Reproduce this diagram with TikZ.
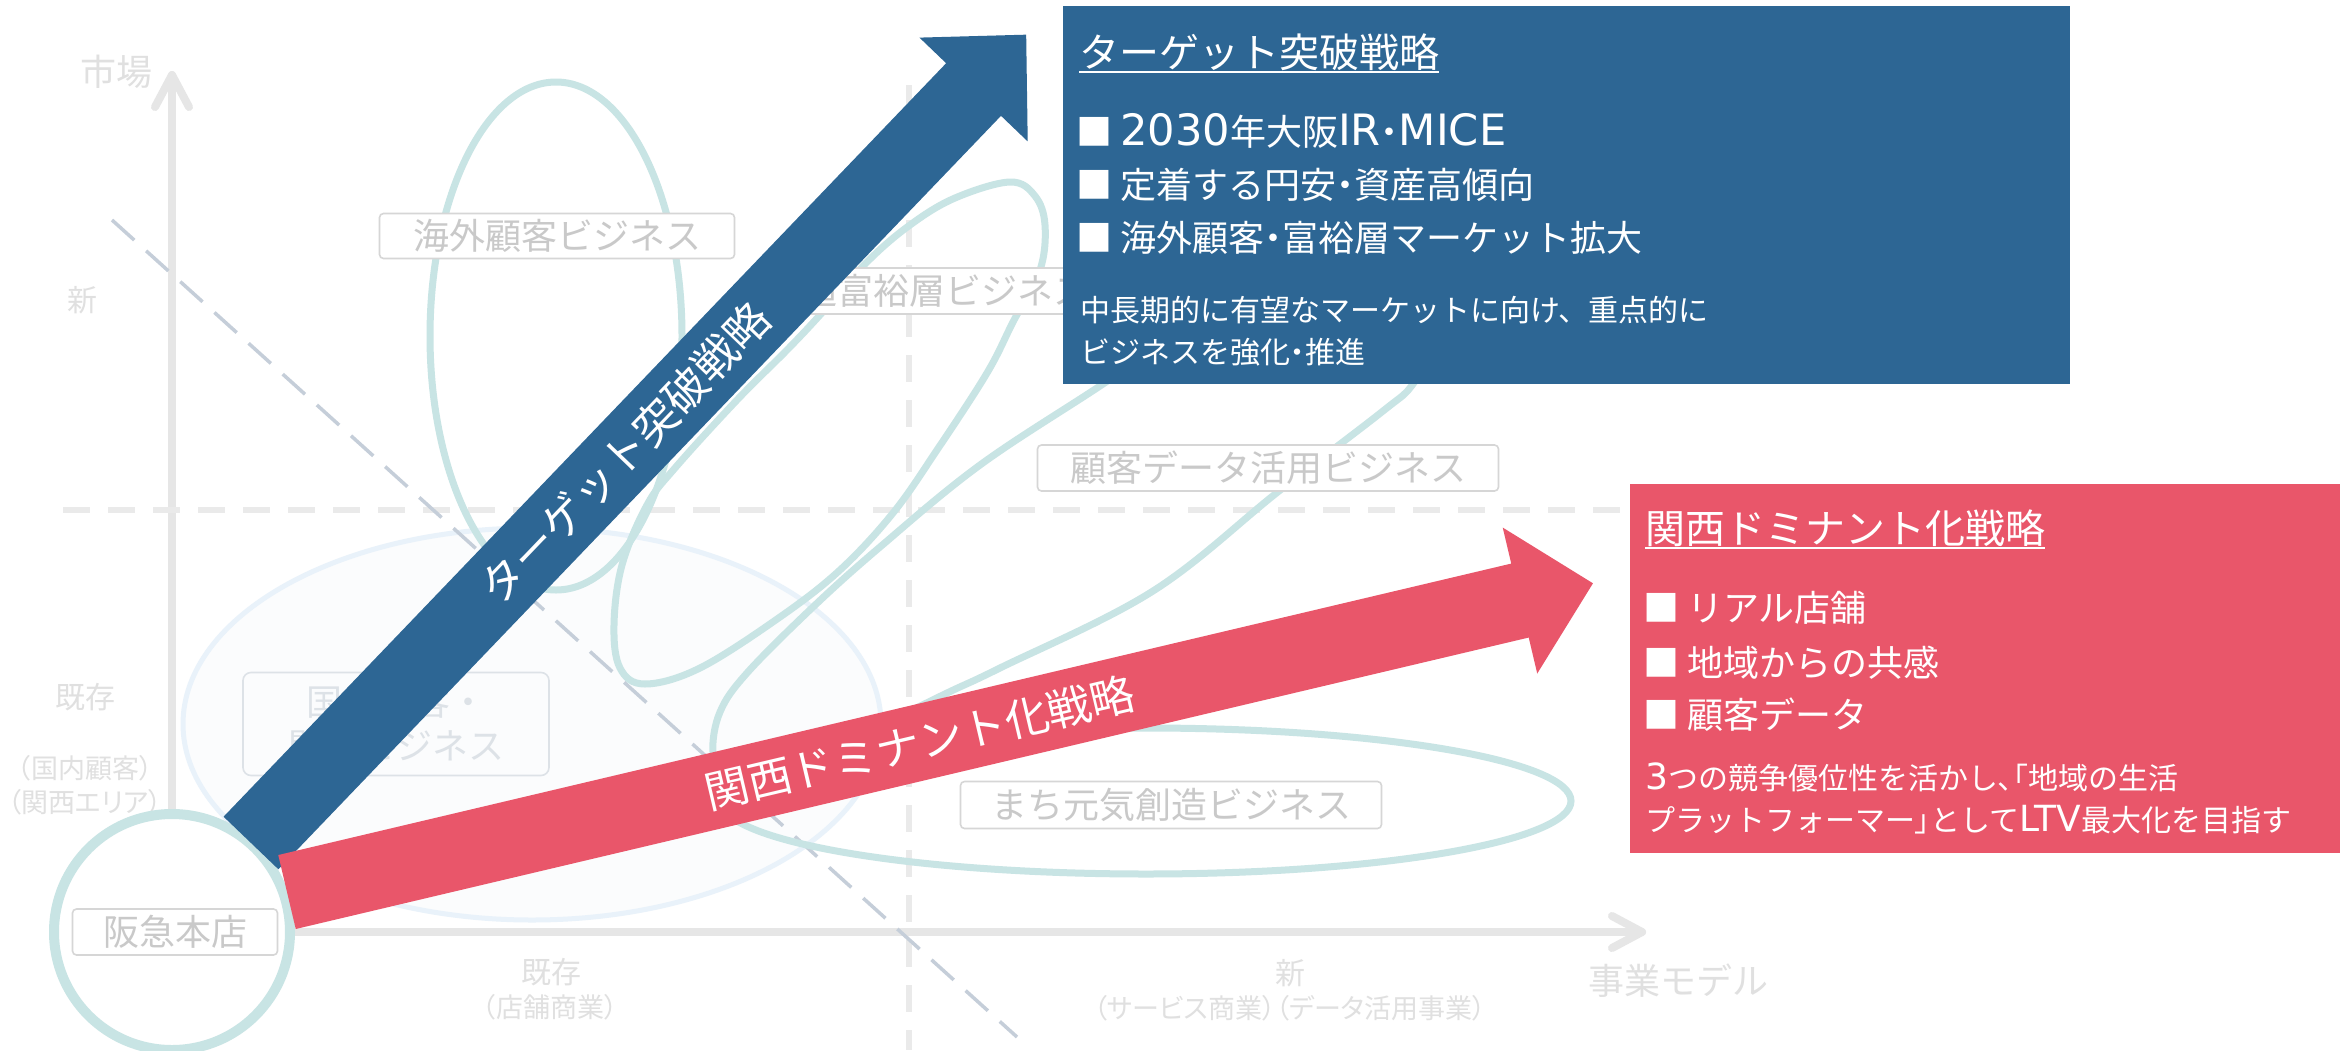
\documentclass[tikz,border=0pt]{standalone}
\usepackage{fontspec}
\setmainfont{Noto Sans CJK JP}
\newfontfamily\jpprop[RawFeature=+palt]{Noto Sans CJK JP}
\newfontfamily\latinwide[Scale=1.2]{DejaVu Sans}
\newcommand{\lw}[1]{{\latinwide #1}}
\newcommand{\pp}[1]{{\jpprop #1}}
\usetikzlibrary{calc}
\definecolor{axisgray}{HTML}{E6E6E6}
\definecolor{dashgray}{HTML}{EAEAEA}
\definecolor{diagblue}{HTML}{C5CED9}
\definecolor{tealline}{HTML}{C8E4E4}
\definecolor{ellline}{HTML}{E9F2FA}
\definecolor{ellfill}{HTML}{FBFCFD}
\definecolor{lbltext}{HTML}{C9C9C9}
\definecolor{lblborder}{HTML}{D6D6D6}
\definecolor{axtext}{HTML}{E0E0E0}
\definecolor{faint}{HTML}{DDE2E7}
\definecolor{stratblue}{HTML}{2D6694}
\definecolor{stratred}{HTML}{E9566A}
\begin{document}
\begin{tikzpicture}[x=1pt,y=-1pt,
  tealloop/.style={draw=tealline, line width=7pt},
  bizbox/.style={draw=lblborder, line width=1.6pt, fill=white, rounded corners=4pt, text=lbltext, font=\fontsize{36}{40}\selectfont, inner sep=0pt},
  axlabel/.style={text=axtext, inner sep=0pt},
  infotext/.style={text=white, anchor=base west, inner sep=0pt},
  axisline/.style={draw=axisgray, line width=8pt, line cap=round, line join=round},
  midline/.style={draw=dashgray, line width=6pt, dash pattern=on 27pt off 18pt},
  arrowtext/.style={text=white, font=\fontsize{44}{48}\selectfont, inner sep=0pt}
]
\fill[white] (0,0) rectangle (2351,1050);
\useasboundingbox (0,0) rectangle (2351,1050);

% big faint ellipse
\draw[ellline, line width=5pt, fill=ellfill] (532,724) ellipse [x radius=349pt, y radius=196pt];

% axes
\coordinate (O) at (172,932);
\coordinate (ytip) at (172,75);
\coordinate (xtip) at (1642,932);
\draw[axisline] (O) -- (ytip);
\draw[axisline] ($(ytip)+(-17,32)$) -- (ytip) -- ($(ytip)+(17,32)$);
\draw[axisline] (O) -- (xtip);
\draw[axisline] ($(xtip)+(-30,-16)$) -- (xtip) -- ($(xtip)+(-30,16)$);

% dashed quadrant lines
\coordinate (hL) at (63,510);
\coordinate (hR) at (1630,510);
\draw[midline] (hL) -- (hR);
\coordinate (vT) at (909,85);
\coordinate (vB) at (909,1050);
\draw[midline] (vT) -- (vB);
\coordinate (dA) at (112,220);
\coordinate (dB) at (1017,1037);
\draw[diagblue, line width=3.5pt, dash pattern=on 30pt off 16pt] (dA) -- (dB);

% business loops
\draw[tealloop] (556,336) ellipse [x radius=126pt, y radius=254pt];
\draw[tealloop] plot[smooth cycle, tension=0.6] coordinates {
  (1010,182) (1035,196) (1045,225) (1040,270) (1013,322) (987,373) (937,450)
  (893,513) (840,570) (780,617) (700,668) (645,684) (620,668) (614,625)
  (622,565) (647,505) (675,468) (737,400) (787,350) (820,315) (867,262)
  (910,225) (955,198)};
\draw[tealloop] plot[smooth cycle, tension=0.6] coordinates {
  (713,752) (720,712) (747,673) (813,607) (880,547) (980,465) (1103,384)
  (1200,318) (1300,268) (1390,250) (1440,280) (1440,335) (1413,384)
  (1383,411) (1279,491) (1153,591) (1000,668) (947,693) (860,735)
  (770,772) (725,775)};
\draw[tealloop] (1146,801) ellipse [x radius=425pt, y radius=73pt];

% business labels
\node[bizbox, minimum width=355pt, minimum height=45pt] (kaigai) at (557,236) {海外顧客ビジネス};
\node[bizbox, minimum width=348pt, minimum height=46pt] (fuyu) at (945,291) {超富裕層ビジネス};
\node[bizbox, minimum width=461pt, minimum height=46pt] (kdata) at (1268,468) {顧客データ活用ビジネス};
\node[bizbox, minimum width=421pt, minimum height=47pt] (machi) at (1171,805) {まち元気創造ビジネス};
\node[bizbox, draw=faint, text=faint, fill=ellfill, rounded corners=8pt, minimum width=306pt, minimum height=103pt, align=center, font=\fontsize{36}{44}\selectfont] (kokunai) at (396,724) {国内顧客・\\関西ビジネス};

% axis labels
\node[axlabel, font=\fontsize{36}{40}\selectfont] (shijo) at (116,72) {市場};
\node[axlabel, font=\fontsize{30}{34}\selectfont] (ynew) at (82,300) {新};
\node[axlabel, font=\fontsize{30}{34}\selectfont] (yold) at (85,697) {既存};
\node[axlabel, font=\fontsize{27}{30}\jpprop] (yold1) at (85,768) {（国内顧客）};
\node[axlabel, font=\fontsize{27}{30}\jpprop] (yold2) at (85,802) {（関西エリア）};
\node[axlabel, font=\fontsize{30}{34}\selectfont] (xold) at (551,972) {既存};
\node[axlabel, font=\fontsize{27}{30}\jpprop] (xold1) at (550,1007) {（店舗商業）};
\node[axlabel, font=\fontsize{30}{34}\selectfont] (xnew) at (1290,973) {新};
\node[axlabel, font=\fontsize{27}{30}\jpprop] (xnew1) at (1290,1008) {（サービス商業）（データ活用事業）};
\node[axlabel, font=\fontsize{36}{40}\selectfont] (jigyo) at (1678,981) {事業モデル};

% Hankyu main store
\node[circle, draw=tealline, line width=10pt, fill=white, minimum size=236pt, inner sep=0pt] (hq) at (O) {};
\node[bizbox, minimum width=205pt, minimum height=46pt] (hqlbl) at (175,932) {阪急本店};

% strategy arrows
\coordinate (bS) at (251,843);
\begin{scope}[shift={(bS)}, rotate=46.2]
  \fill[stratblue] (0,-38) -- (1044,-38) -- (1044,-75) -- (1120,0) -- (1044,75) -- (1044,38) -- (0,38) -- cycle;
  \node[arrowtext, rotate=46.2] (btext) at (540,0) {ターゲット突破戦略};
\end{scope}
\coordinate (rS) at (287,892);
\begin{scope}[shift={(rS)}, rotate=13.3]
  \fill[stratred] (0,-38) -- (1267,-38) -- (1267,-75) -- (1342,0) -- (1267,75) -- (1267,38) -- (0,38) -- cycle;
  \node[arrowtext, rotate=13.3] (rtext) at (650,0) {関西ドミナント化戦略};
\end{scope}

% blue info box
\node[fill=stratblue, minimum width=1007pt, minimum height=378pt, inner sep=0pt, anchor=north west] (bbox) at (1063,6) {};
\node[infotext, font=\fontsize{40}{44}\selectfont] (btitle) at (1079,67) {ターゲット突破戦略};
\draw[white, line width=2.5pt] ($(btitle.base west)+(0,5)$) -- ($(btitle.base east)+(0,5)$);
\node[infotext, font=\fontsize{36}{40}\selectfont] (b1) at (1076,145) {■ \lw{2030}年大阪\lw{IR}\pp{・}\lw{MICE}};
\node[infotext, font=\fontsize{36}{40}\selectfont] (b2) at (1076,198) {■ 定着する円安\pp{・}資産高傾向};
\node[infotext, font=\fontsize{36}{40}\selectfont] (b3) at (1076,251) {■ 海外顧客\pp{・}富裕層マーケット拡大};
\node[infotext, font=\fontsize{30}{34}\selectfont] (bd1) at (1080,321) {中長期的に有望なマーケットに向け、重点的に};
\node[infotext, font=\fontsize{30}{34}\selectfont] (bd2) at (1080,363) {ビジネスを強化\pp{・}推進};

% red info box
\node[fill=stratred, minimum width=710pt, minimum height=369pt, inner sep=0pt, anchor=north west] (rbox) at (1630,484) {};
\node[infotext, font=\fontsize{40}{44}\selectfont] (rtitle) at (1645,543) {関西ドミナント化戦略};
\draw[white, line width=2.5pt] ($(rtitle.base west)+(0,5)$) -- ($(rtitle.base east)+(0,5)$);
\node[infotext, font=\fontsize{36}{40}\selectfont] (r1) at (1643,621) {■ リアル店舗};
\node[infotext, font=\fontsize{36}{40}\selectfont] (r2) at (1643,676) {■ 地域からの共感};
\node[infotext, font=\fontsize{36}{40}\selectfont] (r3) at (1643,728) {■ 顧客データ};
\node[infotext, font=\fontsize{30}{34}\selectfont] (rd1) at (1645,789) {\lw{3}つの競争優位性を活かし\pp{、「}地域の生活};
\node[infotext, font=\fontsize{30}{34}\selectfont] (rd2) at (1645,831) {プラットフォーマー\pp{」}として\lw{LTV}最大化を目指す};
\end{tikzpicture}
\end{document}
